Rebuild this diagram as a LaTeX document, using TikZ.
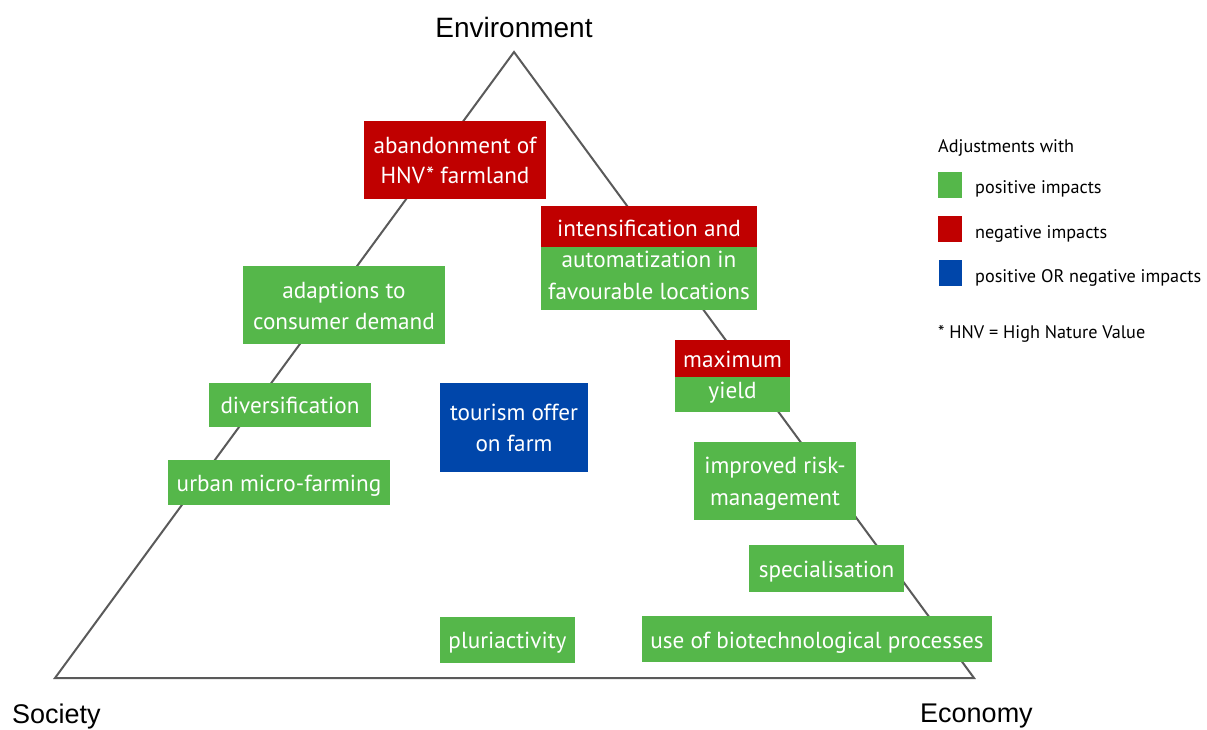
\documentclass[tikz,border=0pt]{standalone}
\usepackage{fontspec}
\setmainfont{PT Sans}
\newfontfamily\cornerfont{Liberation Sans}
\definecolor{posgreen}{RGB}{85,183,74}
\definecolor{negred}{RGB}{192,0,0}
\definecolor{mixblue}{RGB}{0,70,170}
\definecolor{edgegray}{RGB}{90,90,90}
\begin{document}
\begin{tikzpicture}[x=1pt,y=-1pt,
  boxbase/.style={inner sep=0pt,outer sep=0pt,anchor=north west},
  gbox/.style={boxbase,fill=posgreen},
  rbox/.style={boxbase,fill=negred},
  bbox/.style={boxbase,fill=mixblue},
  intext/.style={anchor=base,inner sep=0pt,text=white,font=\fontsize{23.2}{28}\selectfont},
  legtext/.style={anchor=base west,inner sep=0pt,text=black,font=\fontsize{18.2}{22}\selectfont},
  cornertext/.style={inner sep=0pt,text=black,font=\cornerfont\fontsize{28}{32}\selectfont},
  cornersmall/.style={cornertext,font=\cornerfont\fontsize{27}{32}\selectfont},
  edge/.style={draw=edgegray,line width=2pt,line join=miter}
]
\useasboundingbox (0,0) rectangle (1207,729);
% triangle
\coordinate (env) at (514,52);
\coordinate (soc) at (55,678);
\coordinate (eco) at (974,678);
\draw[edge] (env) -- (soc) -- (eco) -- cycle;
% corner labels
\node[cornertext,anchor=base] (lenv) at (514,37) {Environment};
\node[cornersmall,anchor=base west] (lsoc) at (12,723) {Society};
\node[cornersmall,anchor=base west] (leco) at (920,722) {Economy};
% abandonment
\node[rbox,minimum width=182pt,minimum height=78pt] (aban) at (364,121) {};
\node[intext] (aban1) at (455,153) {abandonment of};
\node[intext] (aban2) at (455,183) {HNV* farmland};
% intensification
\node[rbox,minimum width=216pt,minimum height=41pt] (intr) at (541,206) {};
\node[gbox,minimum width=216pt,minimum height=63pt] (intg) at (541,247) {};
\node[intext] (int1) at (649,236) {intensification and};
\node[intext] (int2) at (649,267) {automatization in};
\node[intext] (int3) at (649,299) {favourable locations};
% adaptions
\node[gbox,minimum width=202pt,minimum height=78pt] (adapt) at (243,266) {};
\node[intext] (adapt1) at (344,298) {adaptions to};
\node[intext] (adapt2) at (344,329) {consumer demand};
% maximum yield
\node[rbox,minimum width=115pt,minimum height=37pt] (maxr) at (675,340) {};
\node[gbox,minimum width=115pt,minimum height=35pt] (maxg) at (675,377) {};
\node[intext] (max1) at (732.5,367) {maximum};
\node[intext] (max2) at (732.5,398) {yield};
% diversification
\node[gbox,minimum width=162pt,minimum height=44pt] (div) at (209,383) {};
\node[intext] (div1) at (290,413) {diversification};
% tourism
\node[bbox,minimum width=148pt,minimum height=89pt] (tour) at (440,383) {};
\node[intext] (tour1) at (514,420) {tourism offer};
\node[intext] (tour2) at (514,451) {on farm};
% urban
\node[gbox,minimum width=222pt,minimum height=45pt] (urban) at (168,460) {};
\node[intext] (urban1) at (279,491) {urban micro-farming};
% improved risk
\node[gbox,minimum width=162pt,minimum height=78pt] (risk) at (694,442) {};
\node[intext] (risk1) at (775,473) {improved risk-};
\node[intext] (risk2) at (775,505) {management};
% specialisation
\node[gbox,minimum width=155pt,minimum height=47pt] (spec) at (749,545) {};
\node[intext] (spec1) at (826.5,577) {specialisation};
% pluriactivity
\node[gbox,minimum width=135pt,minimum height=46pt] (pluri) at (440,617) {};
\node[intext] (pluri1) at (507.5,648) {pluriactivity};
% biotech
\node[gbox,minimum width=350pt,minimum height=46pt] (bio) at (642,616) {};
\node[intext] (bio1) at (817,648) {use of biotechnological processes};
% legend
\node[legtext] (leghead) at (938,152) {Adjustments with};
\node[gbox,minimum width=24pt,minimum height=26pt] (lgsq) at (938,172) {};
\node[rbox,minimum width=24pt,minimum height=26pt] (lrsq) at (938,216) {};
\node[bbox,minimum width=23pt,minimum height=26pt] (lbsq) at (939,260) {};
\node[legtext] (lgtx) at (975,193) {positive impacts};
\node[legtext] (lrtx) at (975,238) {negative impacts};
\node[legtext] (lbtx) at (975,282) {positive OR negative impacts};
\node[legtext] (lhnv) at (938,338) {* HNV = High Nature Value};
\end{tikzpicture}
\end{document}
